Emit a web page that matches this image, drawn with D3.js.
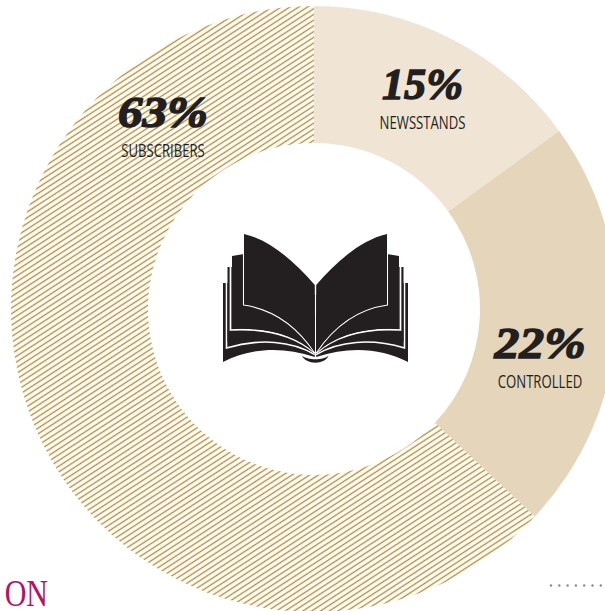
<!DOCTYPE html>
<html>
<head>
<meta charset="utf-8">
<script src="https://cdn.jsdelivr.net/npm/d3@7/dist/d3.min.js"></script>
<style>
html,body{margin:0;padding:0;background:#fff;overflow:hidden}
svg{display:block}
</style>
</head>
<body>
<svg id="chart" width="605" height="611"></svg>
<script>
const categories = ["NEWSSTANDS", "CONTROLLED", "SUBSCRIBERS"];
const shares = [15, 22, 63];
const fills = ["#f0e5d4", "#e5d5ba", "url(#hatch)"];
const labelAnchors = [[422.5, 99], [540, 358], [163, 127]];
const figureWidths = [81, 91, 90];

const svg = d3.select("#chart");
const cx = 314, cy = 309, outer = 303, inner = 166;

// diagonal hatching for the largest slice
const hatch = svg.append("defs").append("pattern")
  .attr("id", "hatch")
  .attr("patternUnits", "userSpaceOnUse")
  .attr("patternTransform", "rotate(-33)")
  .attr("width", 12).attr("height", 4.8);
hatch.append("line")
  .attr("x1", 0).attr("y1", 2.4).attr("x2", 12).attr("y2", 2.4)
  .attr("stroke", "#b88a2c").attr("stroke-width", 1.35);

const pie = d3.pie().sort(null).value(d => d)(shares);
const arc = d3.arc().innerRadius(inner).outerRadius(outer);

svg.append("g").attr("transform", `translate(${cx},${cy})`)
  .selectAll("path").data(pie).join("path")
  .attr("d", arc)
  .attr("fill", (d, i) => fills[i]);

const labels = svg.append("g").selectAll("g").data(pie).join("g")
  .attr("transform", (d, i) => `translate(${labelAnchors[i][0]},${labelAnchors[i][1]})`);

labels.append("text")
  .attr("text-anchor", "middle")
  .attr("font-family", "'Liberation Serif', serif")
  .attr("font-weight", "bold")
  .attr("font-style", "italic")
  .attr("font-size", 45)
  .attr("textLength", (d, i) => figureWidths[i])
  .attr("lengthAdjust", "spacingAndGlyphs")
  .attr("fill", "#231f20")
  .attr("stroke", "#231f20")
  .attr("stroke-width", 1.5)
  .text(d => d.value + "%");

labels.append("text")
  .attr("transform", "translate(0,29.5) scale(0.73,1)")
  .attr("text-anchor", "middle")
  .attr("font-family", "'Open Sans', sans-serif")
  .attr("font-size", 18)
  .attr("fill", "#231f20")
  .text((d, i) => categories[i]);

// open-book emblem in the middle of the ring; half a book, mirrored about the spine
const ink = "#231f20";
const book = svg.append("g").attr("transform", "translate(210,225)");
const half = book.append("g").attr("id", "half");

// back leaf down to the lower edge of the covers
half.append("path").attr("fill", ink)
  .attr("d", "M13,58 L18,58 L18,70 L104.8,100 L104.8,132 C72,121 40,123 13,137 Z");
half.append("path").attr("fill", "none").attr("stroke", "#fff").attr("stroke-width", 1.6)
  .attr("d", "M16.5,58 L16.5,123 C50,113 82,116 104.8,129.5");

// third leaf
half.append("path").attr("fill", ink)
  .attr("d", "M17.5,42 L22,42 L22,60 L104.8,90 L104.8,129 C82,114 50,111 17.5,117 Z");
half.append("path").attr("fill", "none").attr("stroke", "#fff").attr("stroke-width", 1.7)
  .attr("d", "M20.5,42 L20.5,105 C55,103 84,110 104.8,128");

// second leaf
half.append("path").attr("fill", ink)
  .attr("d", "M22,31 L34,29 L104.8,70 L104.8,128 C84,109 55,102 22,104 Z");
half.append("path").attr("fill", "none").attr("stroke", "#fff").attr("stroke-width", 1.1)
  .attr("d", "M33.5,29 L33.5,80 C62,84 86,100 104.8,128");

// front page
half.append("path").attr("fill", ink)
  .attr("d", "M34,9 C60,15 84,36 104.8,60 L104.8,127 C86,99 62,83 34,79 Z");

book.append("use").attr("href", "#half").attr("transform", "translate(211,0) scale(-1,1)");

// small crescent under the spine
book.append("path").attr("fill", ink)
  .attr("d", "M92,130.5 C97,135.5 114,135.5 118.5,130.5 C116,140 95,140 92,130.5 Z");

// tail of the section title at the lower page edge
svg.append("text")
  .attr("transform", "translate(48,606) scale(0.77,1)")
  .attr("text-anchor", "end")
  .attr("font-family", "'Liberation Serif', serif")
  .attr("font-size", 39)
  .attr("fill", "#b5135f")
  .text("ON");

// dotted rule in the lower right corner
const dotIndex = d3.range(7);
svg.append("g").selectAll("circle").data(dotIndex).join("circle")
  .attr("cx", d => 551 + d * 8.3)
  .attr("cy", 585.5)
  .attr("r", 1.2)
  .attr("fill", "#8a8a8a");
</script>
</body>
</html>
